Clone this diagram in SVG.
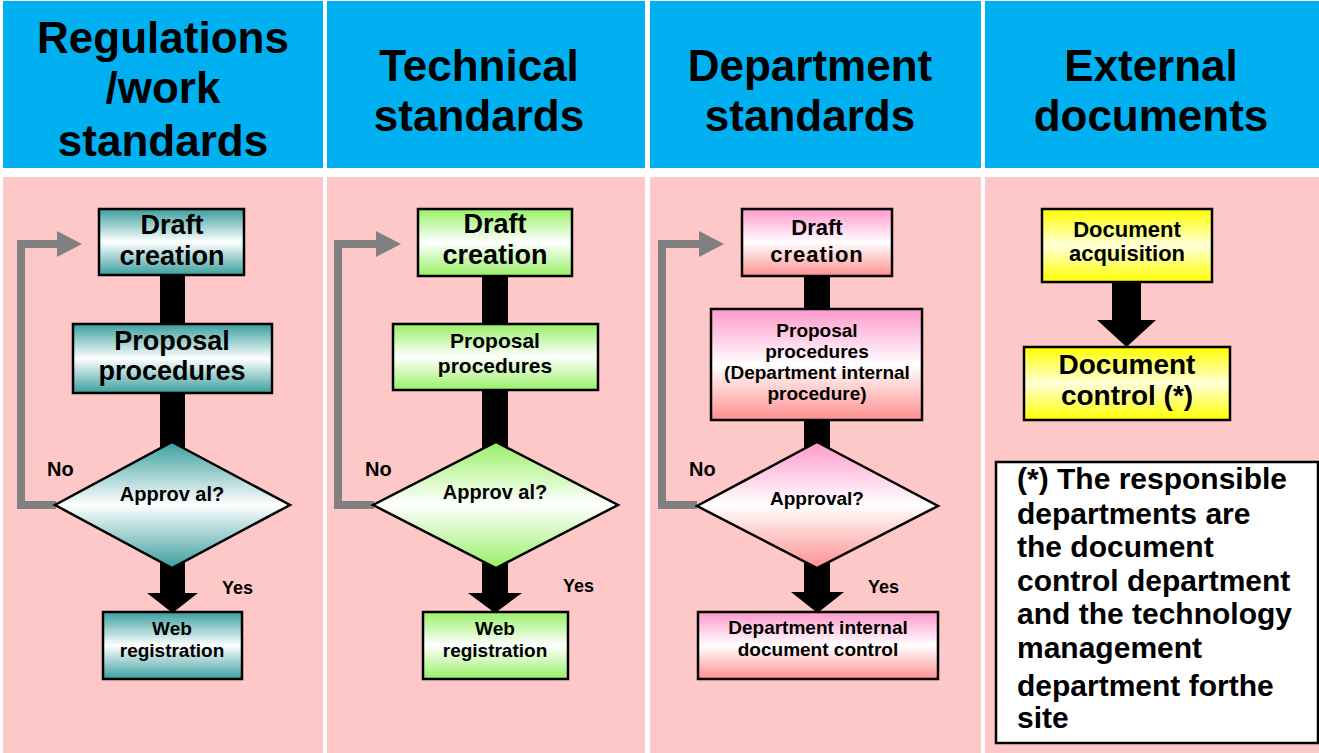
<svg xmlns="http://www.w3.org/2000/svg" width="1319" height="753" viewBox="0 0 1319 753">
<defs>
<linearGradient id="gTeal" x1="0" y1="0" x2="0" y2="1">
<stop offset="0" stop-color="#3A9E9E"/><stop offset="0.5" stop-color="#FFFFFF"/><stop offset="1" stop-color="#3A9E9E"/>
</linearGradient>
<linearGradient id="gGreen" x1="0" y1="0" x2="0" y2="1">
<stop offset="0" stop-color="#99F066"/><stop offset="0.5" stop-color="#FFFFFF"/><stop offset="1" stop-color="#99F066"/>
</linearGradient>
<linearGradient id="gPink" x1="0" y1="0" x2="0" y2="1">
<stop offset="0" stop-color="#FF99CC"/><stop offset="0.5" stop-color="#FFFFFF"/><stop offset="1" stop-color="#FF9090"/>
</linearGradient>
<linearGradient id="gYellow" x1="0" y1="0" x2="0" y2="1">
<stop offset="0" stop-color="#FFFF00"/><stop offset="0.5" stop-color="#FFFFD8"/><stop offset="1" stop-color="#FFFF00"/>
</linearGradient>
</defs>
<style>
text{font-family:"Liberation Sans",Arial,sans-serif;font-weight:bold;fill:#000;}
.c{text-anchor:middle;}
.hd{font-size:44px;}
.hdr{fill:#00B0F0;}
.body{fill:#FFC8C8;}
.nd{stroke:#000;stroke-width:2.5;}
.bar{fill:#000;}
.loop{fill:none;stroke:#808080;stroke-width:8;}
.lh{fill:#808080;}
</style>
<rect width="1319" height="753" fill="#FFFFFF"/>
<g id="columns">
<rect class="hdr" x="3" y="1" width="320" height="167"/>
<rect class="hdr" x="327" y="1" width="318" height="167"/>
<rect class="hdr" x="650" y="1" width="331" height="167"/>
<rect class="hdr" x="985" y="1" width="334" height="167"/>
<rect class="body" x="3" y="177" width="320" height="576"/>
<rect class="body" x="327" y="177" width="318" height="576"/>
<rect class="body" x="650" y="177" width="331" height="576"/>
<rect class="body" x="985" y="177" width="334" height="576"/>
</g>
<g id="headers">
<text class="c hd" x="163" y="53">Regulations</text>
<text class="c hd" x="163" y="103">/work</text>
<text class="c hd" x="163" y="156">standards</text>
<text class="c hd" x="479" y="81">Technical</text>
<text class="c hd" x="479" y="131">standards</text>
<text class="c hd" x="810" y="81">Department</text>
<text class="c hd" x="810" y="131">standards</text>
<text class="c hd" x="1151" y="81">External</text>
<text class="c hd" x="1151" y="131">documents</text>
</g>
<g id="connectors">
<rect class="bar" x="160" y="274" width="25" height="52"/>
<rect class="bar" x="160" y="392" width="25" height="62"/>
<rect class="bar" x="160" y="558" width="25" height="36"/>
<polygon class="bar" points="147,593 198,593 172.5,613"/>
<rect class="bar" x="482" y="275" width="26" height="50"/>
<rect class="bar" x="482" y="389" width="26" height="62"/>
<rect class="bar" x="482" y="558" width="26" height="36"/>
<polygon class="bar" points="468,593 522,593 495,613"/>
<rect class="bar" x="804" y="275" width="26" height="35"/>
<rect class="bar" x="804" y="419" width="26" height="32"/>
<rect class="bar" x="804" y="558" width="26" height="35"/>
<polygon class="bar" points="791,592 844,592 817.5,613"/>
<rect class="bar" x="1112" y="281" width="29" height="40"/>
<polygon class="bar" points="1097,320 1156,320 1126.5,347"/>
<polyline class="loop" points="56,505 21,505 21,244 60,244"/>
<polygon class="lh" points="57,231 82,244 57,257"/>
<polyline class="loop" points="374,505 338,505 338,244 378,244"/>
<polygon class="lh" points="376,231 401,244 376,257"/>
<polyline class="loop" points="697,505 662,505 662,244 701,244"/>
<polygon class="lh" points="699,231 724,244 699,257"/>
<text x="47" y="476" font-size="20">No</text>
<text x="222" y="594" font-size="18">Yes</text>
<text x="365" y="476" font-size="20">No</text>
<text x="563" y="592" font-size="18">Yes</text>
<text x="689" y="476" font-size="20">No</text>
<text x="868" y="593" font-size="18">Yes</text>
</g>
<g id="reg-draft">
<rect class="nd" x="99" y="209" width="145" height="66" fill="url(#gTeal)"/>
<text class="c" x="172" y="234" font-size="27">Draft</text>
<text class="c" x="172" y="265" font-size="27">creation</text>
</g>
<g id="reg-proposal">
<rect class="nd" x="73" y="324" width="199" height="69" fill="url(#gTeal)"/>
<text class="c" x="172" y="350" font-size="27">Proposal</text>
<text class="c" x="172" y="380" font-size="27">procedures</text>
</g>
<g id="reg-approval">
<polygon class="nd" points="172,442 290,505 172,568 55,505" fill="url(#gTeal)"/>
<text class="c" x="172" y="501" font-size="20">Approv al?</text>
</g>
<g id="reg-web">
<rect class="nd" x="103" y="612" width="139" height="67" fill="url(#gTeal)"/>
<text class="c" x="172" y="635" font-size="19">Web</text>
<text class="c" x="172" y="657" font-size="19">registration</text>
</g>
<g id="tech-draft">
<rect class="nd" x="418" y="209" width="154" height="67" fill="url(#gGreen)"/>
<text class="c" x="495" y="233" font-size="27">Draft</text>
<text class="c" x="495" y="264" font-size="27">creation</text>
</g>
<g id="tech-proposal">
<rect class="nd" x="393" y="324" width="205" height="66" fill="url(#gGreen)"/>
<text class="c" x="495" y="348" font-size="21">Proposal</text>
<text class="c" x="495" y="373" font-size="21">procedures</text>
</g>
<g id="tech-approval">
<polygon class="nd" points="496,442 618,505 496,568 373,505" fill="url(#gGreen)"/>
<text class="c" x="495" y="499" font-size="20">Approv al?</text>
</g>
<g id="tech-web">
<rect class="nd" x="423" y="612" width="145" height="67" fill="url(#gGreen)"/>
<text class="c" x="495" y="635" font-size="19">Web</text>
<text class="c" x="495" y="657" font-size="19">registration</text>
</g>
<g id="dept-draft">
<rect class="nd" x="742" y="209" width="150" height="67" fill="url(#gPink)"/>
<text class="c" x="817" y="235" font-size="22">Draft</text>
<text class="c" x="817" y="262" font-size="22" letter-spacing="1">creation</text>
</g>
<g id="dept-proposal">
<rect class="nd" x="711" y="309" width="211" height="111" fill="url(#gPink)"/>
<text class="c" x="817" y="337" font-size="19">Proposal</text>
<text class="c" x="817" y="358" font-size="19">procedures</text>
<text class="c" x="817" y="379" font-size="19">(Department internal</text>
<text class="c" x="817" y="400" font-size="19">procedure)</text>
</g>
<g id="dept-approval">
<polygon class="nd" points="817,442 938,506 817,568 697,506" fill="url(#gPink)"/>
<text class="c" x="817" y="505" font-size="19">Approval?</text>
</g>
<g id="dept-control">
<rect class="nd" x="698" y="612" width="240" height="67" fill="url(#gPink)"/>
<text class="c" x="818" y="634" font-size="19">Department internal</text>
<text class="c" x="818" y="656" font-size="19">document control</text>
</g>
<g id="ext-acquisition">
<rect class="nd" x="1042" y="209" width="170" height="73" fill="url(#gYellow)"/>
<text class="c" x="1127" y="237" font-size="22">Document</text>
<text class="c" x="1127" y="261" font-size="22">acquisition</text>
</g>
<g id="ext-control">
<rect class="nd" x="1024" y="347" width="206" height="73" fill="url(#gYellow)"/>
<text class="c" x="1127" y="374" font-size="28">Document</text>
<text class="c" x="1127" y="405" font-size="28">control (*)</text>
</g>
<g id="note">
<rect x="996" y="462" width="322" height="281" fill="#FFFFFF" stroke="#000" stroke-width="2.5"/>
<text x="1017" y="489" font-size="30">(*) The responsible</text>
<text x="1017" y="524" font-size="30">departments are</text>
<text x="1017" y="557" font-size="30">the document</text>
<text x="1017" y="591" font-size="30">control department</text>
<text x="1017" y="624" font-size="30">and the technology</text>
<text x="1017" y="658" font-size="30">management</text>
<text x="1017" y="696" font-size="30">department forthe</text>
<text x="1017" y="728" font-size="30">site</text>
</g>
</svg>
